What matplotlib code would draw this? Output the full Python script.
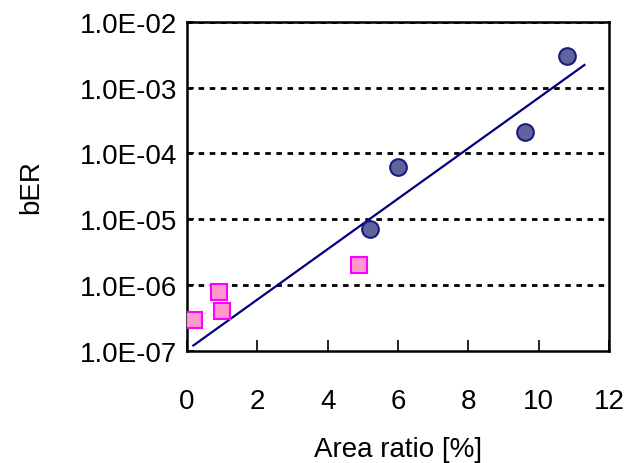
import matplotlib
matplotlib.use("Agg")
import matplotlib.pyplot as plt

plt.rcParams['font.family'] = ['Liberation Sans', 'DejaVu Sans']

# measured points
circle_x = [5.2, 6.0, 9.6, 10.8]
circle_y = [7.2e-6, 6.1e-5, 2.1e-4, 3.0e-3]
square_x = [0.2, 0.9, 1.0, 4.9]
square_y = [2.9e-7, 7.9e-7, 4.0e-7, 2.0e-6]
# trend line end points
trend_x = [0.18, 11.3]
trend_y = [1.2e-7, 2.2e-3]

y_ticks = [1e-7, 1e-6, 1e-5, 1e-4, 1e-3, 1e-2]
y_labels = ['1.0E-07', '1.0E-06', '1.0E-05', '1.0E-04', '1.0E-03', '1.0E-02']
x_ticks = [0, 2, 4, 6, 8, 10, 12]

fig = plt.figure(figsize=(6.24, 4.64), dpi=100)
ax = fig.add_axes([0.2997, 0.242, 0.6763, 0.709])

ax.set_yscale('log')
ax.set_xlim(0, 12)
ax.set_ylim(1e-7, 1e-2)

for yv in y_ticks[1:]:
    ax.axhline(yv, color='black', linestyle=(0, (2, 2)), linewidth=2, zorder=1)

ax.plot(trend_x, trend_y, color='#000080', linewidth=1.6, zorder=2)
ax.plot(circle_x, circle_y, 'o', markersize=12, markerfacecolor='#60649A',
        markeredgecolor='#1A1A80', markeredgewidth=1.5, zorder=3)
ax.plot(square_x, square_y, 's', markersize=11.5, markerfacecolor='#FF99CC',
        markeredgecolor='#FF00FF', markeredgewidth=1.5, zorder=3)

ax.set_yticks(y_ticks)
ax.set_yticklabels(y_labels)
ax.yaxis.set_minor_locator(matplotlib.ticker.NullLocator())
ax.set_xticks(x_ticks)

for s in ['top', 'bottom', 'left', 'right']:
    ax.spines[s].set_linewidth(1.8)

ax.tick_params(axis='x', direction='in', length=8, width=1.2, pad=27, labelsize=20)
ax.tick_params(axis='y', direction='in', length=5, width=1.2, pad=7, labelsize=20)

ax.set_xlabel('Area ratio [%]', fontsize=20, labelpad=16)
ax.set_ylabel('bER', fontsize=20, labelpad=26)

fig.savefig('out.png', dpi=100)
